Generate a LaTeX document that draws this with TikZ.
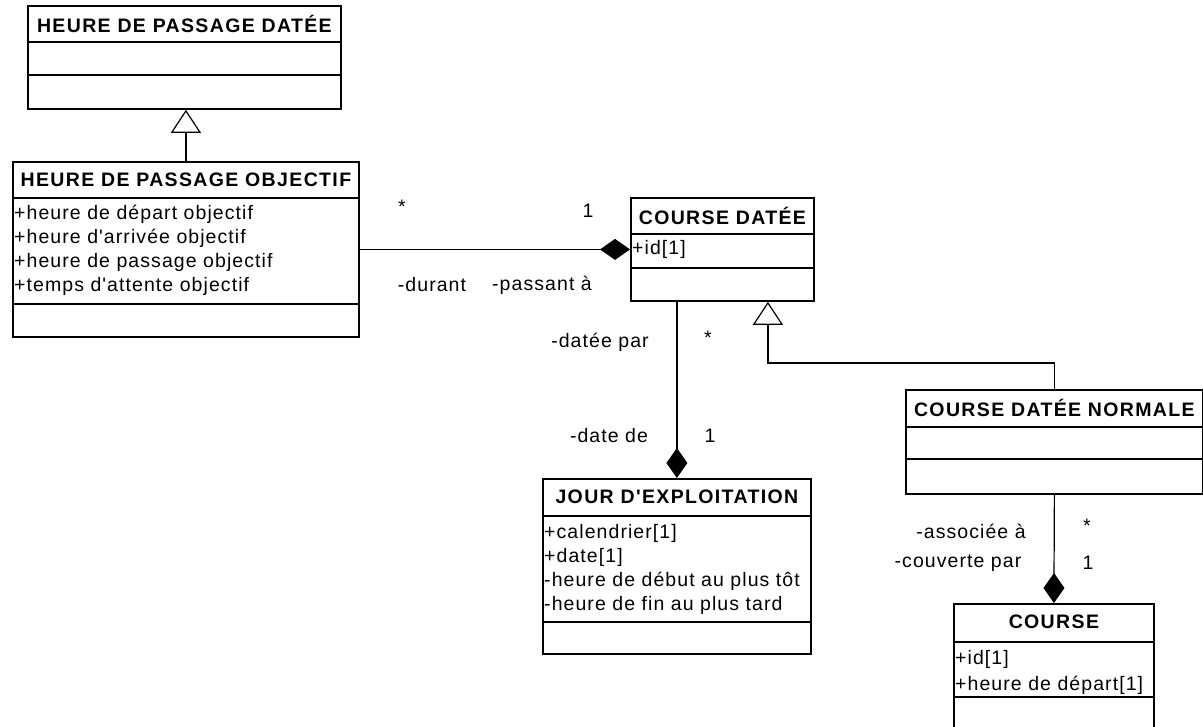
\documentclass[tikz,border=0pt]{standalone}
\usepackage{fontspec}
\usetikzlibrary{arrows.meta}
\newfontfamily\umlfont{Liberation Sans}[LetterSpace=5.5,BoldFeatures={LetterSpace=7}]
\newcommand\umltext{\umlfont\fontsize{19.5}{23}\selectfont}
\begin{document}
\begin{tikzpicture}[x=1pt,y=-1pt,
  cls/.style={draw, line width=1.8pt, inner sep=0pt, anchor=north west},
  ttl/.style={font=\umltext\bfseries, inner sep=0pt},
  att/.style={font=\umltext, inner sep=0pt, anchor=base west},
  lbl/.style={font=\umltext, inner sep=0pt},
  sep/.style={line width=1.8pt},
  link/.style={line width=1.2pt},
  comp/.style={link, -{Diamond[length=30pt,width=21pt]}},
  gen/.style={link, -{Triangle[open,length=23pt,width=30pt,line width=1.2pt]}}]
\fill[white] (0,0) rectangle (1203,727);
\useasboundingbox (0,0) rectangle (1203,727);
\clip (0,0) rectangle (1203,727);

% classes
\node[cls, minimum width=313pt, minimum height=103pt] (hpd) at (27,5) {};
\node[cls, minimum width=346pt, minimum height=175pt] (hpo) at (12,161) {};
\node[cls, minimum width=183pt, minimum height=103pt] (cd) at (630,197) {};
\node[cls, minimum width=297pt, minimum height=104pt] (norm) at (905,389) {};
\node[cls, minimum width=268pt, minimum height=175pt] (jour) at (542,478) {};
\node[cls, minimum width=200pt, minimum height=135pt] (course) at (953,603) {};

% compartments
\foreach \c/\a/\b in {hpd/42/75, hpo/198/304, cd/234/268, norm/427/459, jour/516/622, course/642/697}{
  \draw[sep] (\c.west |- 0,\a) -- (\c.east |- 0,\a);
  \draw[sep] (\c.west |- 0,\b) -- (\c.east |- 0,\b);
}

% class names
\node[ttl] (hpdT) at (hpd.north |- 0,24) {HEURE DE PASSAGE DATÉE};
\node[ttl] (hpoT) at (hpo.north |- 0,180) {HEURE DE PASSAGE OBJECTIF};
\node[ttl] (cdT) at (cd.north |- 0,216) {COURSE DATÉE};
\node[ttl] (normT) at (norm.north |- 0,408) {COURSE DATÉE NORMALE};
\node[ttl] (jourT) at (jour.north |- 0,497) {JOUR D'EXPLOITATION};
\node[ttl] (courseT) at (course.north |- 0,622) {COURSE};

% attributes
\node[att] (hpo1) at (14,220) {+heure de départ objectif};
\node[att] (hpo2) at (14,244) {+heure d'arrivée objectif};
\node[att] (hpo3) at (14,268) {+heure de passage objectif};
\node[att] (hpo4) at (14,292) {+temps d'attente objectif};
\node[att] (cd1) at (632,255) {+id[1]};
\node[att] (jour1) at (544,538) {+calendrier[1]};
\node[att] (jour2) at (544,562) {+date[1]};
\node[att] (jour3) at (544,586) {-heure de début au plus tôt};
\node[att] (jour4) at (544,610) {-heure de fin au plus tard};
\node[att] (course1) at (955,664) {+id[1]};
\node[att] (course2) at (955,690) {+heure de départ[1]};

% relations
\draw[gen] (hpo.north) -- (hpo.north |- hpd.south);
\draw[comp] (hpo.east) -- (cd.west);
\draw[comp] (cd.south -| jour.north) -- (jour.north);
\draw[gen] (norm.north) -- ++(0,-26) -| ([xshift=45.5pt]cd.south);
\draw[comp] (norm.south) -- (course.north);

% role names and multiplicities
\node[lbl] (m1) at (402,207) {*};
\node[lbl] (m2) at (588,211) {1};
\node[lbl] (r1) at (432,285) {-durant};
\node[lbl] (r2) at (542,285) {-passant à};
\node[lbl] (r3) at (600,342) {-datée par};
\node[lbl] (m3) at (708,338) {*};
\node[lbl] (r4) at (609,436) {-date de};
\node[lbl] (m4) at (710,436) {1};
\node[lbl] (r5) at (971,531) {-associée à};
\node[lbl] (m5) at (1087,526) {*};
\node[lbl] (r6) at (958,563) {-couverte par};
\node[lbl] (m6) at (1088,563) {1};
\end{tikzpicture}
\end{document}
